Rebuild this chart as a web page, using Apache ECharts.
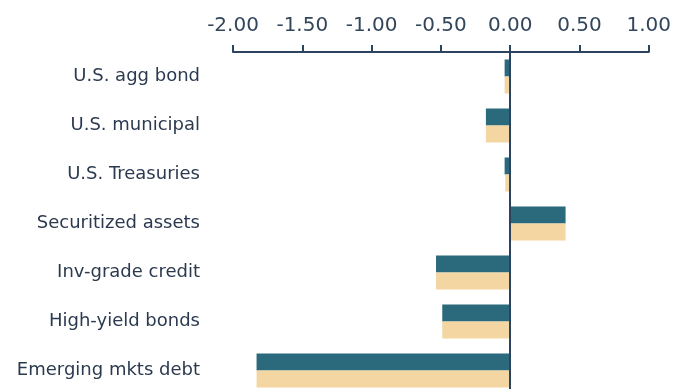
<!DOCTYPE html>
<html>
<head>
<meta charset="utf-8">
<script src="https://cdn.jsdelivr.net/npm/echarts@6/dist/echarts.min.js"></script>
<style>
html,body{margin:0;padding:0;background:#ffffff;overflow:hidden;width:674px;height:389px;}
#chart{width:674px;height:395px;}
</style>
</head>
<body>
<div id="chart"></div>
<script>
const categories = ["U.S. agg bond", "U.S. municipal", "U.S. Treasuries", "Securitized assets", "Inv-grade credit", "High-yield bonds", "Emerging mkts debt"];
const seriesA = [-0.04, -0.175, -0.04, 0.40, -0.535, -0.49, -1.83];
const seriesB = [-0.04, -0.175, -0.035, 0.40, -0.535, -0.49, -1.83];
const xMin = -2, xMax = 1, xStep = 0.5;

const navy = '#2b4360';
const chart = echarts.init(document.getElementById('chart'));
chart.setOption({
  backgroundColor: '#ffffff',
  animation: false,
  grid: { left: 233, right: 22, top: 52, bottom: 0, containLabel: false },
  xAxis: {
    type: 'value', position: 'top', min: xMin, max: xMax, interval: xStep,
    axisLine: { show: true, lineStyle: { color: navy, width: 2 } },
    axisTick: { show: true, length: 7, lineStyle: { color: navy, width: 2 } },
    axisLabel: { margin: 16, color: '#33465c', fontSize: 20, fontFamily: 'DejaVu Sans', formatter: v => v.toFixed(2) },
    splitLine: { show: false }
  },
  yAxis: {
    type: 'category', data: categories, inverse: true,
    axisLine: { show: false }, axisTick: { show: false },
    axisLabel: { margin: 33, color: '#2b3a4f', fontSize: 18, fontFamily: 'DejaVu Sans' }
  },
  series: [
    { type: 'bar', data: seriesA, barWidth: 17, barGap: '0%', itemStyle: { color: '#2b6a7d' },
      markLine: { silent: true, symbol: 'none', label: { show: false }, lineStyle: { color: navy, width: 2, type: 'solid' }, data: [{ xAxis: 0 }] } },
    { type: 'bar', data: seriesB, barWidth: 17, barGap: '0%', itemStyle: { color: '#f3d6a2' } }
  ]
});
</script>
</body>
</html>
